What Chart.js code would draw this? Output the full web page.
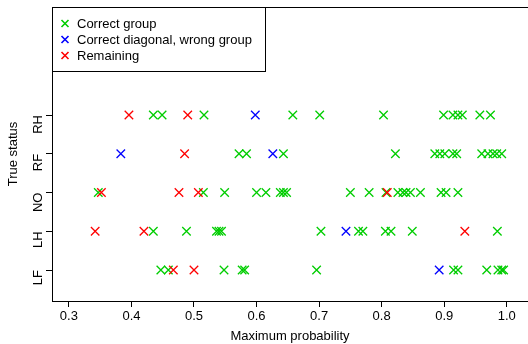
<!DOCTYPE html>
<html>
<head>
<meta charset="utf-8">
<script src="https://cdn.jsdelivr.net/npm/chart.js@4/dist/chart.umd.min.js"></script>
<style>
  html, body { margin: 0; padding: 0; background: #fff; }
  #wrap { width: 528px; height: 344px; }
</style>
</head>
<body>
<div id="wrap"><canvas id="chart" width="528" height="344"></canvas></div>
<script>
// --- Data ---
const statusLabels = ['LF', 'LH', 'NO', 'RF', 'RH'];   // y = 1..5
const xTicks = [0.3, 0.4, 0.5, 0.6, 0.7, 0.8, 0.9, 1.0];

// max probability per true status, split by outcome
const greenLF = [0.447, 0.459, 0.548, 0.577, 0.581, 0.696, 0.915, 0.922, 0.968, 0.986, 0.992, 0.995];
const greenLH = [0.435, 0.488, 0.536, 0.540, 0.544, 0.703, 0.763, 0.770, 0.806, 0.815, 0.849, 0.985];
const greenNO = [0.347, 0.515, 0.549, 0.600, 0.615, 0.638, 0.643, 0.648, 0.750, 0.780, 0.807, 0.826,
                 0.834, 0.839, 0.846, 0.862, 0.895, 0.903, 0.922];
const greenRF = [0.572, 0.584, 0.643, 0.822, 0.885, 0.893, 0.901, 0.914, 0.920, 0.960, 0.970, 0.978,
                 0.984, 0.992];
const greenRH = [0.435, 0.449, 0.516, 0.658, 0.701, 0.803, 0.899, 0.914, 0.922, 0.929, 0.957, 0.974];

const blueLF = [0.892];
const blueLH = [0.743];
const blueNO = [];
const blueRF = [0.383, 0.626];
const blueRH = [0.598];

const redLF = [0.467, 0.500];
const redLH = [0.342, 0.420, 0.933];
const redNO = [0.352, 0.476, 0.507, 0.809];
const redRF = [0.485];
const redRH = [0.396, 0.490];

const legendLabels = ['Correct group', 'Correct diagonal, wrong group', 'Remaining'];
const colors = ['#00cd00', '#0000ff', '#ff0000'];

function toPoints(rows) {
    const pts = [];
    rows.forEach((vals, i) => vals.forEach(v => pts.push({ x: v, y: i + 1 })));
    return pts;
}

const FONT = '"Liberation Sans", Arial, Helvetica, sans-serif';

const markerStyle = {
    pointStyle: 'crossRot',
    pointRadius: 6,
    pointHoverRadius: 6,
    borderWidth: 1.3,
    showLine: false
};

// legend box drawn inside the plot, plus the top frame line
const frameLegend = {
    id: 'frameLegend',
    afterDraw(chart) {
        const ctx = chart.ctx;
        const area = chart.chartArea;
        ctx.save();
        ctx.strokeStyle = '#000';
        ctx.lineWidth = 1;
        ctx.beginPath();
        ctx.moveTo(area.left, area.top + 0.5);
        ctx.lineTo(chart.width, area.top + 0.5);
        ctx.stroke();

        const bx = area.left, by = area.top, bw = 213, bh = 64;
        ctx.fillStyle = '#fff';
        ctx.fillRect(bx + 0.5, by + 0.5, bw, bh);
        ctx.strokeRect(bx + 0.5, by + 0.5, bw, bh);

        ctx.font = '13px ' + FONT;
        ctx.textBaseline = 'middle';
        legendLabels.forEach((lab, i) => {
            const yy = by + 16.5 + i * 16;
            const xx = bx + 13;
            const r = 3.5;
            ctx.strokeStyle = colors[i];
            ctx.lineWidth = 1.6;
            ctx.beginPath();
            ctx.moveTo(xx - r, yy - r); ctx.lineTo(xx + r, yy + r);
            ctx.moveTo(xx - r, yy + r); ctx.lineTo(xx + r, yy - r);
            ctx.stroke();
            ctx.fillStyle = '#000';
            ctx.fillText(lab, bx + 25, yy + 0.5);
        });
        ctx.restore();
    }
};

new Chart(document.getElementById('chart'), {
    type: 'scatter',
    data: {
        datasets: [
            {
                label: legendLabels[0],
                data: toPoints([greenLF, greenLH, greenNO, greenRF, greenRH]),
                borderColor: colors[0], backgroundColor: colors[0],
                order: 3, ...markerStyle
            },
            {
                label: legendLabels[1],
                data: toPoints([blueLF, blueLH, blueNO, blueRF, blueRH]),
                borderColor: colors[1], backgroundColor: colors[1],
                order: 2, ...markerStyle
            },
            {
                label: legendLabels[2],
                data: toPoints([redLF, redLH, redNO, redRF, redRH]),
                borderColor: colors[2], backgroundColor: colors[2],
                order: 1, ...markerStyle
            }
        ]
    },
    options: {
        responsive: false,
        animation: false,
        layout: { autoPadding: false, padding: { top: 7, right: 0, left: 0, bottom: 0 } },
        plugins: {
            legend: { display: false },
            tooltip: { enabled: false }
        },
        scales: {
            x: {
                type: 'linear',
                min: 0.273,
                max: 1.034,
                afterBuildTicks: scale => { scale.ticks = xTicks.map(v => ({ value: v })); },
                afterFit: scale => {
                    scale.height = 43;
                    scale.paddingLeft = 0;
                    scale.paddingRight = 0;
                },
                border: { display: true, color: '#000', width: 1 },
                grid: { drawOnChartArea: false, drawTicks: true, tickLength: 6, color: '#000' },
                ticks: {
                    color: '#000',
                    font: { family: FONT, size: 13 },
                    padding: 2,
                    maxRotation: 0,
                    callback: v => v.toFixed(1)
                },
                title: {
                    display: true,
                    text: 'Maximum probability',
                    color: '#000',
                    font: { family: FONT, size: 13 },
                    padding: { top: 8, bottom: 0 }
                }
            },
            y: {
                type: 'linear',
                min: 0.2,
                max: 7.79,
                afterBuildTicks: scale => { scale.ticks = statusLabels.map((s, i) => ({ value: i + 1 })); },
                afterFit: scale => {
                    scale.width = 52;
                    scale.paddingTop = 0;
                    scale.paddingBottom = 0;
                },
                border: { display: true, color: '#000', width: 1 },
                grid: { drawOnChartArea: false, drawTicks: true, tickLength: 6, color: '#000' },
                ticks: {
                    color: '#000',
                    font: { family: FONT, size: 13 },
                    padding: 8,
                    minRotation: 90,
                    maxRotation: 90,
                    callback: v => statusLabels[v - 1] || ''
                },
                title: {
                    display: true,
                    text: 'True status',
                    color: '#000',
                    font: { family: FONT, size: 13 },
                    padding: { top: 6, bottom: 4 }
                }
            }
        }
    },
    plugins: [frameLegend]
});
</script>
</body>
</html>
